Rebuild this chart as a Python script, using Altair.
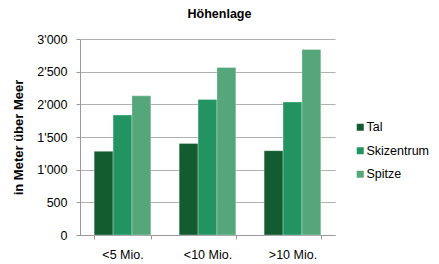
import altair as alt
import pandas as pd

categories = ["<5 Mio.", "<10 Mio.", ">10 Mio."]
series = ["Tal", "Skizentrum", "Spitze"]
tal = [1280, 1400, 1290]
skizentrum = [1835, 2075, 2035]
spitze = [2130, 2565, 2840]
colors = ["#125C2F", "#229462", "#55A77B"]

rows = []
for i, c in enumerate(categories):
    for s, vals in zip(series, [tal, skizentrum, spitze]):
        rows.append({"Kategorie": c, "Serie": s, "Wert": vals[i]})
df = pd.DataFrame(rows)

FONT = "Liberation Sans"

chart = alt.Chart(df).mark_bar(
    stroke="#ffffff", strokeWidth=0.6, strokeOpacity=0.5
).encode(
    x=alt.X("Kategorie:N", sort=categories, title=None,
            scale=alt.Scale(paddingInner=0.333, paddingOuter=0.1667),
            axis=alt.Axis(labelAngle=0, labelFont=FONT, labelFontSize=12.5,
                          labelColor="#000000", labelPadding=9,
                          tickBand="extent", tickSize=4, tickColor="#999999",
                          domainColor="#999999", grid=False)),
    xOffset=alt.XOffset("Serie:N", sort=series, scale=alt.Scale(paddingInner=0, paddingOuter=0)),
    y=alt.Y("Wert:Q", title="in Meter über Meer",
            scale=alt.Scale(domain=[0, 3000], nice=False),
            axis=alt.Axis(values=[0, 500, 1000, 1500, 2000, 2500, 3000],
                          labelExpr="replace(format(datum.value, ','), ',', \"'\")",
                          labelFont=FONT, labelFontSize=12.5, labelColor="#000000",
                          labelPadding=9, tickSize=4, tickColor="#999999",
                          domainColor="#999999", gridColor="#b0b0b0",
                          titleFont=FONT, titleFontSize=13, titleFontWeight="bold",
                          titleColor="#000000", titlePadding=11)),
    color=alt.Color("Serie:N", sort=series,
                    scale=alt.Scale(domain=series, range=colors),
                    legend=alt.Legend(title=None, orient="none", legendX=274, legendY=82,
                                      symbolType="square", symbolSize=49,
                                      symbolStrokeWidth=0,
                                      labelFont=FONT, labelFontSize=12.5,
                                      labelColor="#000000", rowPadding=10.5,
                                      labelOffset=0)),
).properties(
    width=255, height=196,
    title=alt.TitleParams("Höhenlage", font=FONT, fontSize=12.5, fontWeight="bold",
                          color="#000000", anchor="middle", dx=12, offset=13),
    autosize=alt.AutoSizeParams(type="none"),
    padding={"left": 72, "top": 31, "right": 96, "bottom": 27},
).configure_view(stroke=None)

chart.save("out.html", embed_options={"renderer": "svg", "actions": False})
